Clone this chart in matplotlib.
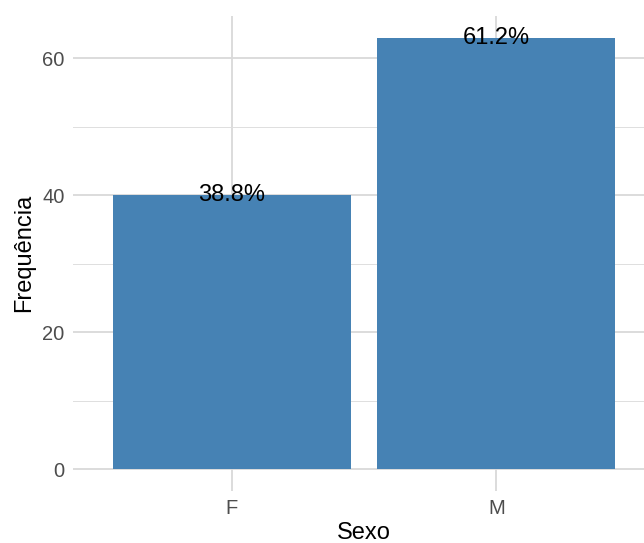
import matplotlib
matplotlib.use("Agg")
from matplotlib import pyplot as plt
from matplotlib.ticker import MultipleLocator

# dados
categorias = ["F", "M"]
frequencias = [40, 63]
percentuais = ["38.8%", "61.2%"]

plt.rcParams['font.family'] = ['Liberation Sans', 'DejaVu Sans']

fig = plt.figure(figsize=(6.44, 5.43), dpi=100)
ax = fig.add_axes([73 / 644, (543 - 490.6) / 543, (655 - 73) / 644, (490.6 - 16) / 543])

pos = list(range(1, len(categorias) + 1))
ax.bar(pos, frequencias, width=0.9, color="steelblue", zorder=2)

for p, f, t in zip(pos, frequencias, percentuais):
    ax.text(p, f, t, ha="center", va="center", fontsize=17, color="black", zorder=3)

ax.set_xlim(0.4, 2.6)
ymax = max(frequencias)
ax.set_ylim(-0.05 * ymax, 1.05 * ymax)
ax.set_xticks(pos)
ax.set_xticklabels(categorias)
ax.yaxis.set_major_locator(MultipleLocator(20))
ax.yaxis.set_minor_locator(MultipleLocator(10))

ax.grid(which="major", color="#d9d9d9", linewidth=1.3, zorder=0)
ax.grid(which="minor", axis="y", color="#dedede", linewidth=0.7, zorder=0)
ax.set_axisbelow(True)
for s in ax.spines.values():
    s.set_visible(False)
ax.tick_params(which="both", length=0, labelsize=14.5, labelcolor="#4d4d4d", pad=6)

ax.set_xlabel("Sexo", fontsize=17, labelpad=3)
ax.set_ylabel("Frequência", fontsize=17, labelpad=5)

fig.savefig("out.png", dpi=100)
